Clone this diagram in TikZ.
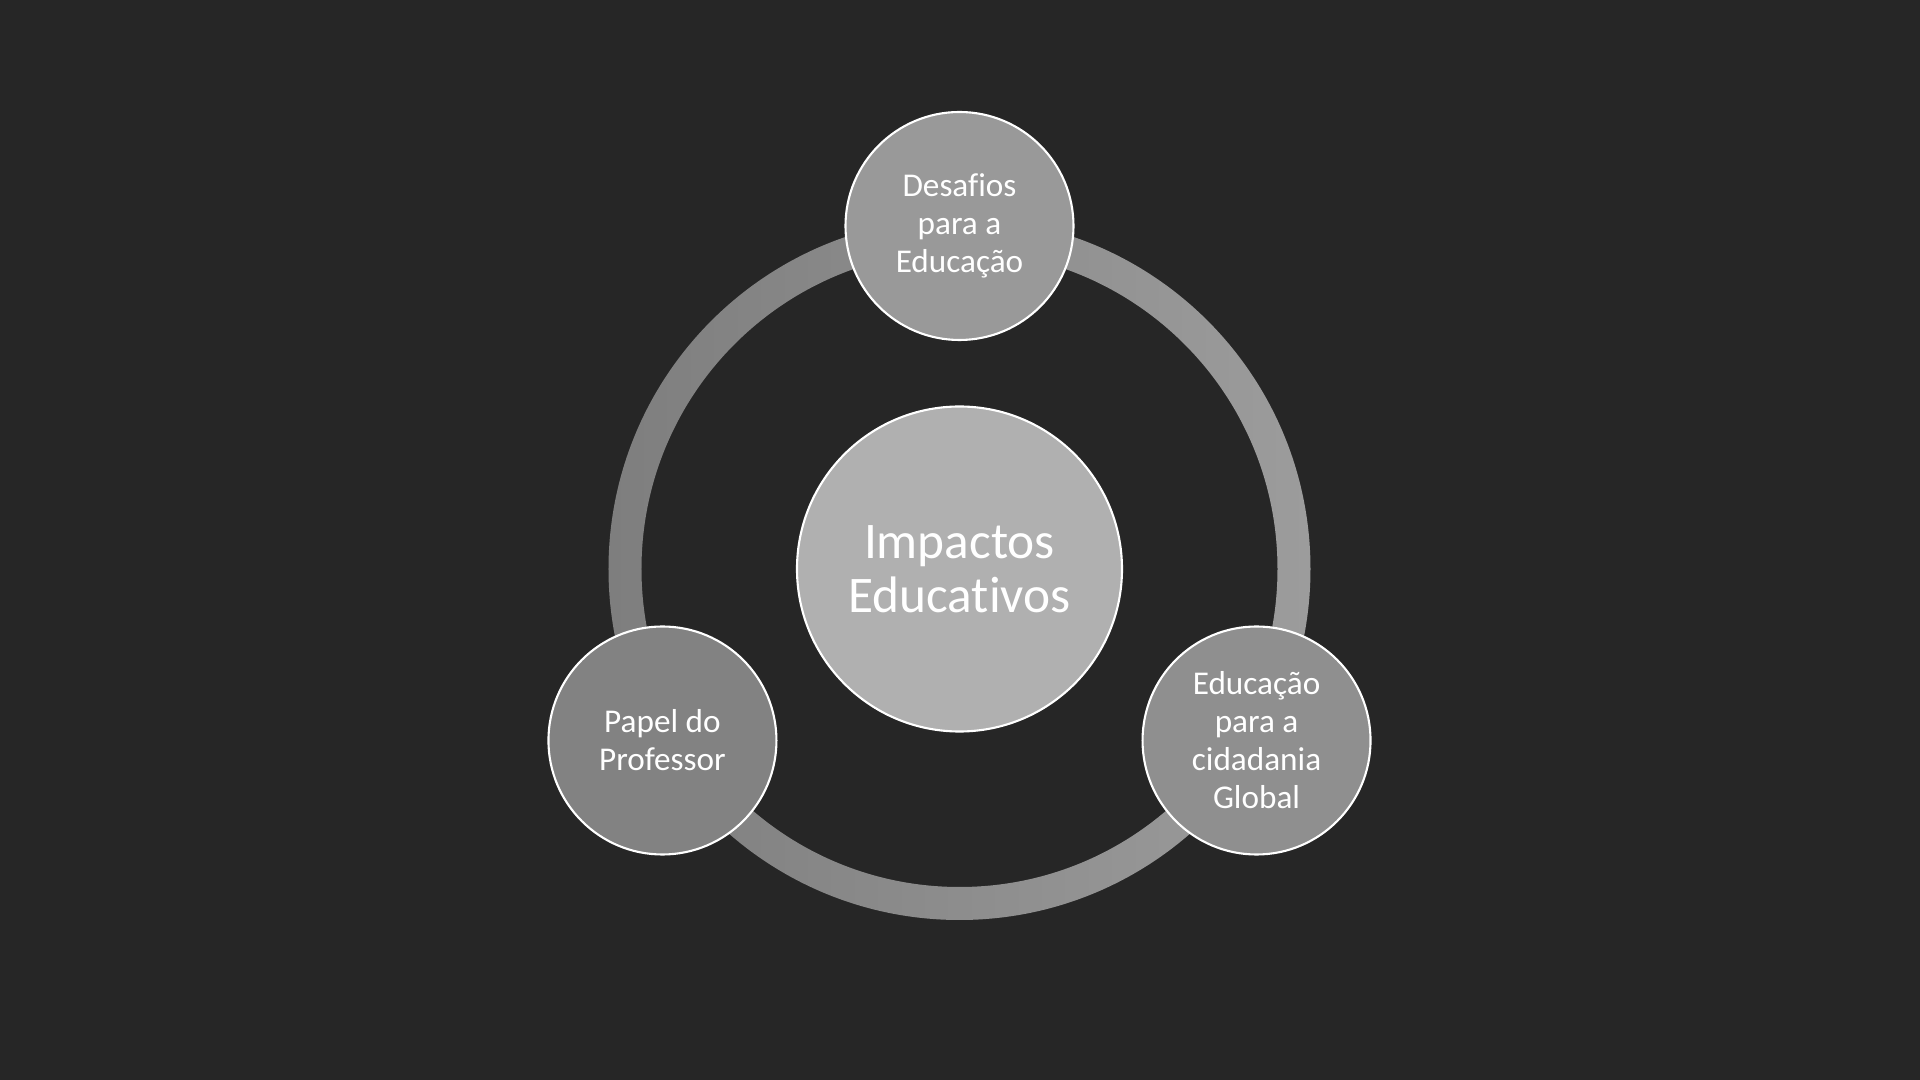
\documentclass[tikz,border=0pt]{standalone}
\usepackage{fontspec}
\setmainfont{Carlito}[Ligatures=NoCommon]
\newcommand{\nolig}{\kern0pt{}}
\definecolor{bg}{HTML}{262626}
\definecolor{ringL}{HTML}{7E7E7E}
\definecolor{ringR}{HTML}{9C9C9C}
\definecolor{topfill}{HTML}{999999}
\definecolor{leftfill}{HTML}{828282}
\definecolor{rightfill}{HTML}{8F8F8F}
\definecolor{centerfill}{HTML}{B0B0B0}
\tikzset{
  bubble/.style={circle, draw=white, line width=0.6pt, minimum size=2.28cm, inner sep=0pt,
    text=white, align=center, font=\fontsize{9.45pt}{10.8pt}\selectfont},
  hub/.style={circle, draw=white, line width=0.6pt, minimum size=3.25cm, inner sep=0pt,
    fill=centerfill, text=white, align=center, font=\fontsize{14.6pt}{15.4pt}\selectfont}
}
\begin{document}
\begin{tikzpicture}
\fill[bg] (-9.595,-5.11) rectangle (9.605,5.69);
\useasboundingbox (-9.595,-5.11) rectangle (9.605,5.69);
\coordinate (c) at (0,0);
\path[left color=ringL, right color=ringR, even odd rule] (c) circle (3.51) (c) circle (3.18);
\node[hub] (hub) at (c) {Impactos\\Educat\nolig ivos};
\node[bubble, fill=topfill] (top) at (90:3.43) {Desaf\nolig ios\\para a\\Educação};
\node[bubble, fill=leftfill] (left) at (210:3.43) {Papel do\\Professor};
\node[bubble, fill=rightfill] (right) at (330:3.43) {Educação\\para a\\cidadania\\Global};
\end{tikzpicture}
\end{document}
